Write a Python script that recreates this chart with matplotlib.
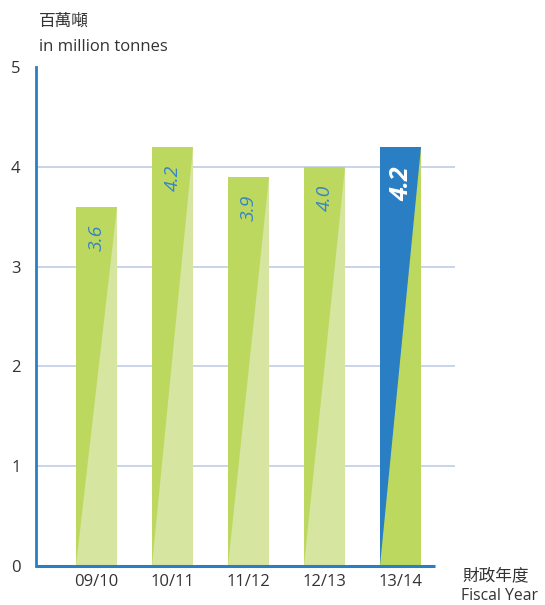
import matplotlib
matplotlib.use("Agg")
import matplotlib.pyplot as plt

plt.rcParams['font.family'] = ['Open Sans', 'Noto Sans CJK TC', 'DejaVu Sans']

categories = ["09/10", "10/11", "11/12", "12/13", "13/14"]
values = [3.6, 4.2, 3.9, 4.0, 4.2]
labels = ["3.6", "4.2", "3.9", "4.0", "4.2"]
yticks = [0, 1, 2, 3, 4, 5]

GREEN = "#BDD85E"
LIGHT = "#D6E5A0"
BLUE = "#2A7EC4"
AXIS = "#2A7EC4"
GRID = "#C6D1E7"
LBL = "#3585C6"
TXT = "#333333"

fig = plt.figure(figsize=(5.45, 6.05), dpi=100)
ax = fig.add_axes([36/545, 1-566/605, (455-36)/545, (566-67)/605])
ax.set_xlim(-0.796, 4.717)
ax.set_ylim(0, 5)

w = 0.54
x = list(range(len(categories)))
for i, v in enumerate(values):
    last = (i == len(values) - 1)
    top_col = BLUE if last else GREEN
    low_col = GREEN if last else LIGHT
    ax.bar(i, v, width=w, color=top_col, zorder=2, linewidth=0)
    x0, x1 = i - w/2, i + w/2
    ax.fill([x0, x1, x1], [0, v, 0], color=low_col, zorder=3, linewidth=0)
    if last:
        ax.annotate(labels[i], xy=(i, v), xytext=(1, -14), textcoords='offset points',
                    rotation=90, ha='center', va='top', color='white',
                    fontsize=18, fontweight='bold', fontstyle='italic', zorder=4)
    else:
        ax.annotate(labels[i], xy=(i, v), xytext=(0, -13), textcoords='offset points',
                    rotation=90, ha='center', va='top', color=LBL,
                    fontsize=14, fontstyle='italic', zorder=4)

for yv in yticks[1:-1]:
    ax.axhline(yv, color=GRID, linewidth=1.3, zorder=1)

for s in ['top', 'right', 'bottom']:
    ax.spines[s].set_visible(False)
ax.spines['left'].set_color(AXIS)
ax.spines['left'].set_linewidth(2)
ax.plot([-0.796, 4.454], [0, 0], color=AXIS, linewidth=2.2, clip_on=False, zorder=5,
        solid_capstyle='butt')

ax.set_yticks(yticks)
ax.set_yticklabels([str(t) for t in yticks], fontsize=12, color=TXT)
ax.set_xticks(x)
ax.set_xticklabels(categories, fontsize=12, color=TXT)
ax.tick_params(axis='y', length=0, pad=11)
ax.tick_params(axis='x', length=0, pad=6)

fig.text(39/545, 1-22/605, "百萬噸", fontsize=12, color=TXT, va='center', ha='left')
fig.text(39/545, 1-47/605, "in million tonnes", fontsize=12, color=TXT, va='center', ha='left')
fig.text(462/545, 1-576/605, "財政年度", fontsize=12, color=TXT, va='center', ha='left')
fig.text(461/545, 1-596/605, "Fiscal Year", fontsize=11.3, color=TXT, va='center', ha='left')

fig.savefig("out.png", dpi=100)
